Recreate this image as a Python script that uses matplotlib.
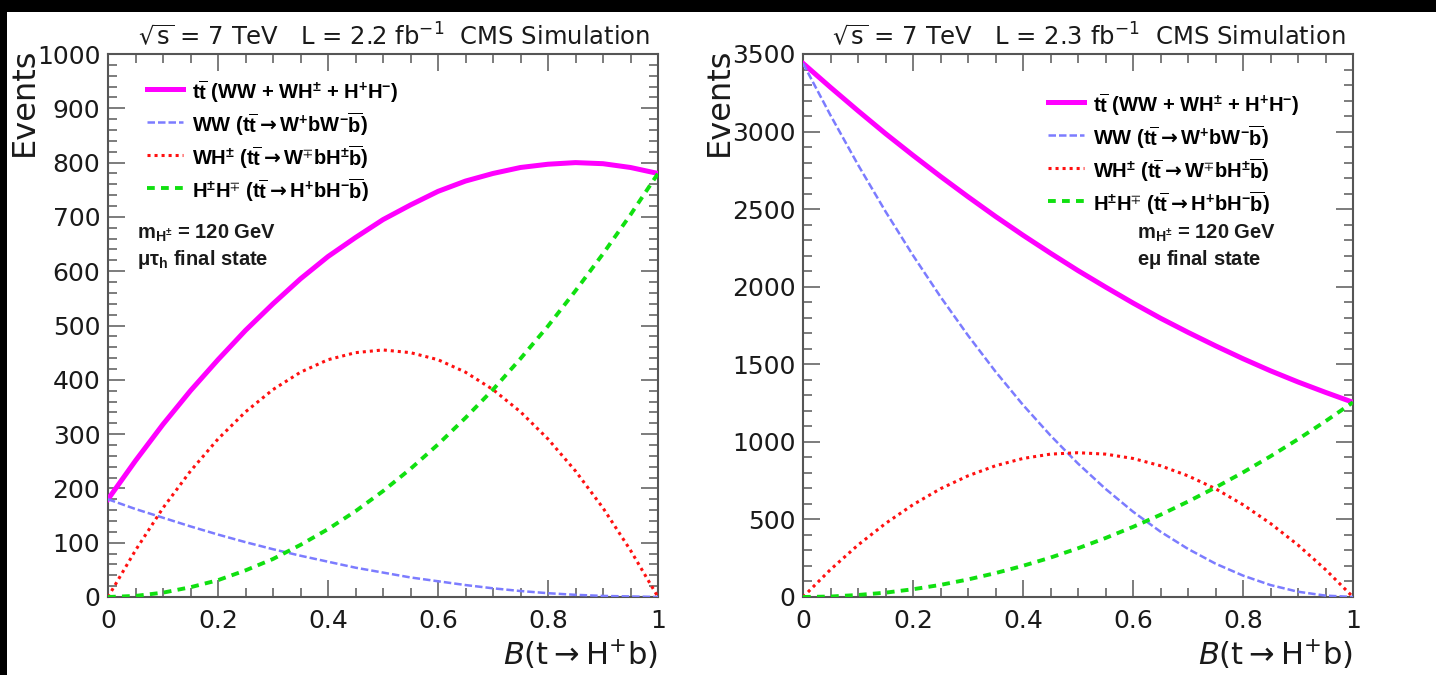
import matplotlib
matplotlib.use("Agg")
import matplotlib.pyplot as plt
from matplotlib.patches import Rectangle
from matplotlib.font_manager import FontProperties
from matplotlib.ticker import MultipleLocator, FuncFormatter

plt.rcParams["font.family"] = ["DejaVu Sans"]
plt.rcParams["mathtext.fontset"] = "dejavusans"
plt.rcParams["mathtext.default"] = "regular"
# bold Helvetica-like maths for the legend and the notes
plt.rcParams["mathtext.rm"] = "Liberation Sans:bold"
plt.rcParams["mathtext.bf"] = "Liberation Sans:bold"
plt.rcParams["mathtext.it"] = "Liberation Sans:bold:italic"
plt.rcParams["mathtext.sf"] = "DejaVu Sans:bold"
plt.rcParams["mathtext.fallback"] = "stixsans"

# Branching ratio B(t -> H+ b)
br = [0.00, 0.05, 0.10, 0.15, 0.20, 0.25, 0.30, 0.35, 0.40, 0.45, 0.50,
      0.55, 0.60, 0.65, 0.70, 0.75, 0.80, 0.85, 0.90, 0.95, 1.00]

# mu-tau_h final state, L = 2.2 fb^-1
mutau_total = [180, 251, 318, 380, 437, 491, 540, 586, 627, 662, 695,
               722, 747, 766, 780, 791, 797, 800, 798, 791, 780]
mutau_ww = [180, 162, 146, 130, 115, 101, 88, 76, 65, 54, 45,
            36, 29, 22, 16, 11, 7, 4, 2, 1, 0]
mutau_wh = [0, 86, 164, 232, 291, 341, 382, 414, 437, 450, 455,
            450, 437, 414, 382, 341, 291, 232, 164, 86, 0]
mutau_hh = [0, 2, 8, 18, 31, 49, 70, 96, 125, 158, 195,
            236, 281, 330, 382, 439, 499, 564, 632, 704, 780]

# e-mu final state, L = 2.3 fb^-1
emu_total = [3440, 3285, 3134, 2987, 2847, 2711, 2580, 2453, 2332, 2216, 2104,
             1998, 1895, 1797, 1706, 1619, 1536, 1458, 1386, 1319, 1255]
emu_ww = [3440, 3105, 2786, 2485, 2202, 1935, 1686, 1453, 1238, 1041, 860,
          697, 550, 421, 310, 215, 138, 77, 34, 9, 0]
emu_wh = [0, 177, 335, 474, 595, 698, 781, 846, 893, 921, 930,
          921, 893, 846, 781, 698, 595, 474, 335, 177, 0]
emu_hh = [0, 3, 13, 28, 50, 78, 113, 154, 201, 254, 314,
          380, 452, 530, 615, 706, 803, 907, 1017, 1133, 1255]

legend_labels = [
    r"$t\overline{t}$ (WW + WH$^{\pm}$ + H$^{+}$H$^{-}$)",
    r"WW ($t\overline{t}\mathsf{\rightarrow}W^{+}bW^{-}\overline{b}$)",
    r"WH$^{\pm}$ ($t\overline{t}\mathsf{\rightarrow}W^{\mp}bH^{\pm}\overline{b}$)",
    r"H$^{\pm}$H$^{\mp}$ ($t\overline{t}\mathsf{\rightarrow}H^{+}bH^{-}\overline{b}$)",
]

W, H = 1436, 675
fig = plt.figure(figsize=(W / 100, H / 100), dpi=100)
fig.patch.set_facecolor("white")
fig.patches.append(Rectangle((0, 1 - 12 / H), 1, 12 / H, transform=fig.transFigure,
                             facecolor="black", edgecolor="none", zorder=-5))
fig.patches.append(Rectangle((0, 0), 7 / W, 1, transform=fig.transFigure,
                             facecolor="black", edgecolor="none", zorder=-5))

AX_TOP, AX_BOT = 54, 597
AX_W = 550


def bold_font(size):
    return FontProperties(family="Liberation Sans", weight="bold", size=size,
                          math_fontfamily="custom")


def panel(x_left, ymax, ymajor, yminor, tot, ww, wh, hh, title, leg_xy, note_xy, state):
    rect = [x_left / W, 1 - AX_BOT / H, AX_W / W, (AX_BOT - AX_TOP) / H]
    ax = fig.add_axes(rect)
    l_tot, = ax.plot(br, tot, color="#ff00ff", lw=3.6, zorder=3)
    l_ww, = ax.plot(br, ww, color="#7c7cff", lw=1.8, ls=(0, (3, 1.2)), zorder=4)
    l_wh, = ax.plot(br, wh, color="#ff1010", lw=2.2, ls=(0, (1, 1.3)), zorder=4)
    l_hh, = ax.plot(br, hh, color="#10e010", lw=2.8, ls=(0, (2, 1.6)), zorder=4)
    ax.set_xlim(0, 1)
    ax.set_ylim(0, ymax)
    ax.xaxis.set_major_locator(MultipleLocator(0.2))
    ax.xaxis.set_minor_locator(MultipleLocator(0.05))
    ax.yaxis.set_major_locator(MultipleLocator(ymajor))
    ax.yaxis.set_minor_locator(MultipleLocator(yminor))
    ax.xaxis.set_major_formatter(FuncFormatter(lambda v, p: "%g" % round(v, 3)))
    ax.tick_params(which="both", direction="in", top=True, right=True,
                   color="#666666", labelcolor="#1a1a1a", labelsize=18, width=1.2)
    ax.tick_params(which="major", length=12.5)
    ax.tick_params(which="minor", length=6.5)
    ax.tick_params(axis="x", pad=8.5)
    ax.tick_params(axis="y", pad=5.5)
    for s in ax.spines.values():
        s.set_color("#555555")
        s.set_linewidth(1.5)

    ax.legend([l_tot, l_ww, l_wh, l_hh], legend_labels, loc="upper left",
              bbox_to_anchor=leg_xy, frameon=False, prop=bold_font(14.5),
              handlelength=1.8, handletextpad=0.45, labelspacing=0.23,
              handleheight=1.6, borderpad=0, borderaxespad=0)

    ax.text(note_xy[0], note_xy[1], r"m$_{H^{\pm}}$ = 120 GeV",
            transform=ax.transAxes, fontproperties=bold_font(14.5),
            ha="left", va="center", color="#1a1a1a")
    ax.text(note_xy[0], note_xy[1] - 0.049, state,
            transform=ax.transAxes, fontproperties=bold_font(14.5),
            ha="left", va="center", color="#1a1a1a")

    right_px = x_left + AX_W
    fig.text((right_px - 8) / W, 1 - 45 / H, title, ha="right", va="baseline",
             fontsize=17.5, color="#1a1a1a")
    fig.text(right_px / W, 10 / H, r"$\mathit{B}$(t$\rightarrow$H$^{+}$b)",
             ha="right", va="baseline", fontsize=22, color="#1a1a1a")
    fig.text((x_left - 84) / W, 1 - 48 / H, "Events", rotation=90,
             ha="center", va="top", fontsize=23, color="#1a1a1a")
    return ax


panel(108, 1000, 100, 20, mutau_total, mutau_ww, mutau_wh, mutau_hh,
      r"$\sqrt{\mathrm{s}}$ = 7 TeV   L = 2.2 fb$^{-1}$  CMS Simulation",
      (0.071, 0.956), (0.053, 0.670), r"$\mu\tau_{h}$ final state")
panel(803, 3500, 500, 100, emu_total, emu_ww, emu_wh, emu_hh,
      r"$\sqrt{\mathrm{s}}$ = 7 TeV   L = 2.3 fb$^{-1}$  CMS Simulation",
      (0.445, 0.932), (0.607, 0.670), r"e$\mu$ final state")

fig.savefig("out.png", dpi=100, facecolor=fig.get_facecolor())
